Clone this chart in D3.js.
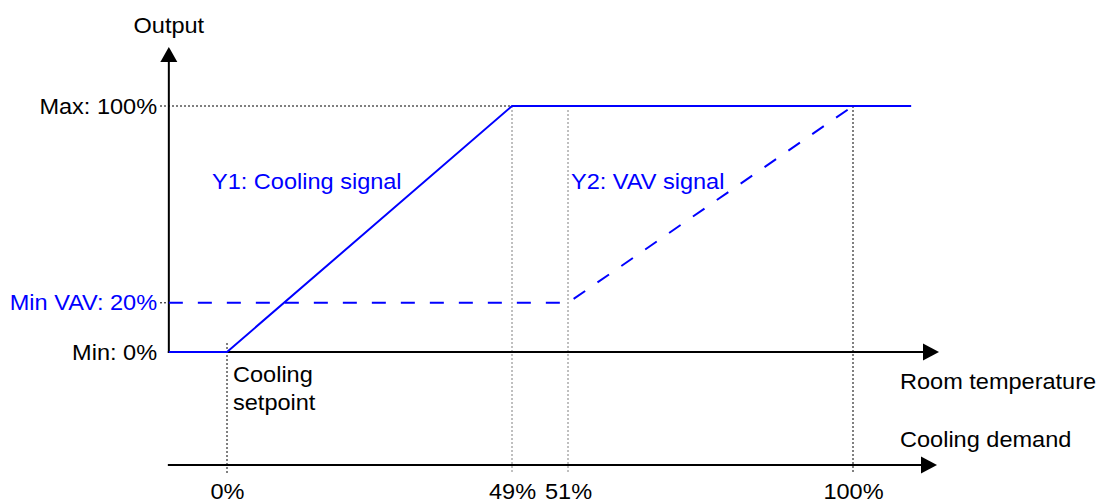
<!DOCTYPE html>
<html>
<head>
<meta charset="utf-8">
<script src="https://cdn.jsdelivr.net/npm/d3@7/dist/d3.min.js"></script>
<style>
  body { margin: 0; background: #fff; }
  text { font-family: "Liberation Sans", Arial, sans-serif; font-size: 22px; }
</style>
</head>
<body>
<div id="chart"></div>
<script>
// cooling demand in %, output in %
const demandTicks = [0, 49, 51, 100];
const demandLabels = ["0%", "49%", "51%", "100%"];
const outputTicks = [0, 20, 100];
const outputLabels = ["Min: 0%", "Min VAV: 20%", "Max: 100%"];
const y1Demand = [-10, 0, 49, 110];
const y1Output = [0, 0, 100, 100];
const y2Demand = [-10, 51, 100];
const y2Output = [20, 20, 100];

const width = 1106, height = 504;
const blue = "#0000ff";
const sx = 1.07; // text is a bit wide in the picture

const svg = d3.select("#chart").append("svg")
    .attr("width", width)
    .attr("height", height);

const x = d3.scaleLinear()
    .domain([0, 49, 51, 100])
    .range([227, 512, 568, 853]);
const y = d3.scaleLinear()
    .domain([0, 100])
    .range([352, 106]);

const x0 = x(-10), xEnd = 939, yTop = 47, yDemand = 465;

function label(px, py, str, anchor, color) {
  return svg.append("text")
      .attr("transform", "translate(" + px + "," + py + ") scale(" + sx + ",1)")
      .attr("text-anchor", anchor || "start")
      .attr("fill", color || "#000")
      .text(str);
}

// guide lines
const guides = svg.append("g").attr("fill", "none").attr("stroke-width", 1).attr("stroke-dasharray", "2,2");
guides.append("line").attr("x1", 160).attr("x2", x(49)).attr("y1", y(100)).attr("y2", y(100)).attr("stroke", "#000");
guides.append("line").attr("x1", 160).attr("x2", x0).attr("y1", y(20)).attr("y2", y(20)).attr("stroke", "#000");
guides.append("line").attr("x1", x(0)).attr("x2", x(0)).attr("y1", 343).attr("y2", 474).attr("stroke", "#000");
guides.append("line").attr("x1", x(49)).attr("x2", x(49)).attr("y1", y(100)).attr("y2", 474).attr("stroke", "#808080");
guides.append("line").attr("x1", x(51)).attr("x2", x(51)).attr("y1", y(100) + 4).attr("y2", 474).attr("stroke", "#808080");
guides.append("line").attr("x1", x(100)).attr("x2", x(100)).attr("y1", y(100)).attr("y2", 474).attr("stroke", "#000");

// axes
const axes = svg.append("g").attr("stroke", "#000").attr("stroke-width", 2);
axes.append("line").attr("x1", x0).attr("x2", x0).attr("y1", y(0) + 1).attr("y2", yTop + 12);
axes.append("line").attr("x1", x0 - 1).attr("x2", xEnd - 12).attr("y1", y(0)).attr("y2", y(0));
axes.append("line").attr("x1", x0 - 1).attr("x2", xEnd - 14).attr("y1", yDemand).attr("y2", yDemand);

svg.append("path").attr("d", d3.line()([[x0, yTop], [x0 + 8.5, yTop + 15], [x0 - 8.5, yTop + 15]]) + "Z");
svg.append("path").attr("d", d3.line()([[xEnd, y(0)], [xEnd - 16, y(0) - 8.5], [xEnd - 16, y(0) + 8.5]]) + "Z");
svg.append("path").attr("d", d3.line()([[xEnd - 2, yDemand], [xEnd - 18, yDemand - 8.5], [xEnd - 18, yDemand + 8.5]]) + "Z");

// demand axis labels
const demandAxis = d3.axisBottom(x)
    .tickValues(demandTicks)
    .tickSize(0)
    .tickPadding(18.5)
    .tickFormat((d, i) => demandLabels[i]);
const gd = svg.append("g")
    .attr("transform", "translate(0," + yDemand + ")")
    .call(demandAxis);
gd.select(".domain").remove();
gd.attr("font-size", null).attr("font-family", null);
gd.selectAll("text")
    .attr("fill", "#000")
    .attr("transform", "scale(" + sx + ",1)");

// output axis labels
const outputAxis = d3.axisLeft(y)
    .tickValues(outputTicks)
    .tickSize(0)
    .tickPadding(11)
    .tickFormat((d, i) => outputLabels[i]);
const go = svg.append("g")
    .attr("transform", "translate(" + x0 + ",0)")
    .call(outputAxis);
go.select(".domain").remove();
go.attr("font-size", null).attr("font-family", null);
go.selectAll("text")
    .attr("fill", d => d === 20 ? blue : "#000")
    .attr("transform", "scale(" + sx + ",1)");

// signals
const line = d3.line().x(d => x(d[0])).y(d => y(d[1]));
svg.append("path")
    .attr("d", line(y2Demand.map((d, i) => [d, y2Output[i]])))
    .attr("fill", "none")
    .attr("stroke", blue)
    .attr("stroke-width", 2)
    .attr("stroke-dasharray", "14,15");
svg.append("path")
    .attr("d", line(y1Demand.map((d, i) => [d, y1Output[i]])))
    .attr("fill", "none")
    .attr("stroke", blue)
    .attr("stroke-width", 2);

// texts
label(x0, 33, "Output", "middle");
label(212, 189, "Y1: Cooling signal", "start", blue);
label(571, 189, "Y2: VAV signal", "start", blue);
label(233, 382, "Cooling");
label(233, 410, "setpoint");
label(900, 389, "Room temperature");
label(900, 447, "Cooling demand");
</script>
</body>
</html>
